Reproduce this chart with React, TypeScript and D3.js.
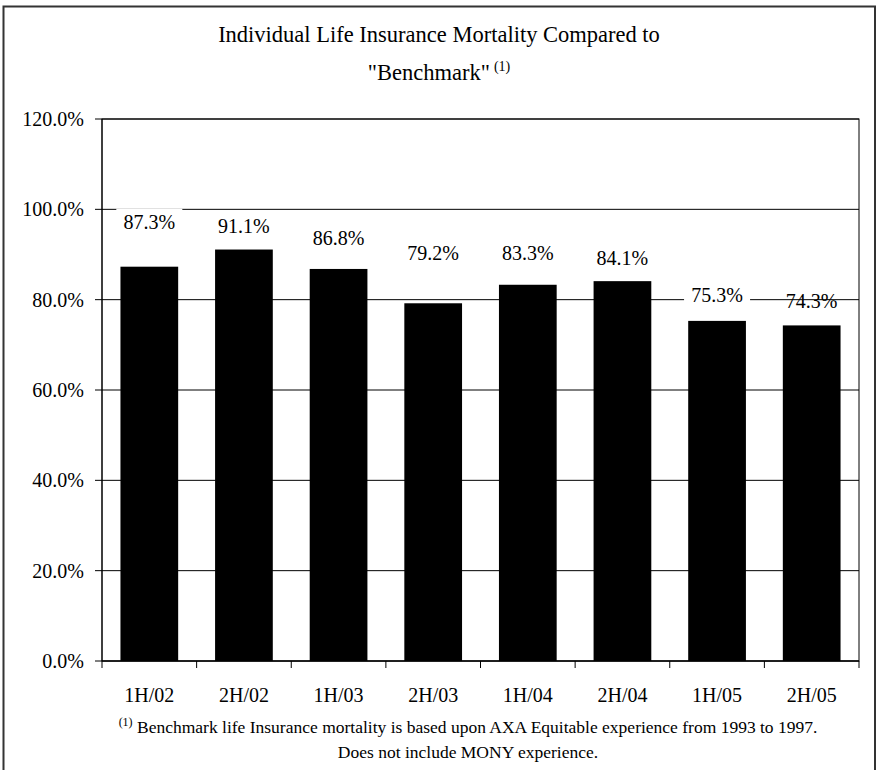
import React from "react";
import * as d3 from "d3";

const categories = ["1H/02", "2H/02", "1H/03", "2H/03", "1H/04", "2H/04", "1H/05", "2H/05"];
const values = [87.3, 91.1, 86.8, 79.2, 83.3, 84.1, 75.3, 74.3];
const yTicks = [0, 20, 40, 60, 80, 100, 120];
// layout tweaks for the hand-placed data labels (pixels above bar top)
const labelLift = [45, 24, 31, 50, 32, 23, 26, 24];
const labelBoxed = [true, true, true, true, true, true, true, false];

const W = 877;
const H = 770;
const FONT = "Liberation Serif, Times New Roman, serif";

export default function App() {
  const left = 102;
  const right = 859;
  const top = 119;
  const bottom = 661;

  const x = d3.scaleBand<string>().domain(categories).range([left, right]).padding(0);
  const y = d3.scaleLinear().domain([0, 120]).range([bottom, top]);
  const barW = x.bandwidth() * 0.61;
  const fmt = (v: number) => v.toFixed(1) + "%";

  return (
    <svg
      width={W}
      height={H}
      style={{ position: "absolute", left: 0, top: 0, display: "block", background: "#fff", fontFamily: FONT }}
    >
      <rect x={0} y={0} width={W} height={H} fill="#fff" />
      {/* outer frame */}
      <rect x={3.5} y={6.5} width={871.5} height={800} fill="none" stroke="#333" strokeWidth={2} />

      {/* title */}
      <text x={439} y={42} textAnchor="middle" fontSize={22.5} fill="#000">
        Individual Life Insurance Mortality Compared to
      </text>
      <text x={439} y={80} textAnchor="middle" fontSize={22.5} fill="#000">
        "Benchmark"
        <tspan fontSize={14} dy={-9} dx={4}>(1)</tspan>
      </text>

      {/* gridlines */}
      {yTicks.map((t) => (
        <line key={"g" + t} x1={left} x2={right} y1={y(t)} y2={y(t)} stroke="#000" strokeWidth={1} />
      ))}

      {/* plot border */}
      <rect x={left} y={top} width={right - left} height={bottom - top} fill="none" stroke="#000" strokeWidth={1} />

      {/* bars */}
      {values.map((v, i) => {
        const cx = (x(categories[i]) as number) + x.bandwidth() / 2;
        return (
          <rect key={"b" + i} x={cx - barW / 2} y={y(v)} width={barW} height={bottom - y(v)} fill="#000" />
        );
      })}

      {/* value labels */}
      {values.map((v, i) => {
        const cx = (x(categories[i]) as number) + x.bandwidth() / 2;
        const cy = y(v) - labelLift[i];
        return (
          <g key={"l" + i}>
            {labelBoxed[i] && <rect x={cx - 33} y={cy - 13} width={66} height={26} fill="#fff" />}
            <text x={cx} y={cy} dy="0.35em" textAnchor="middle" fontSize={20} fill="#000">
              {fmt(v)}
            </text>
          </g>
        );
      })}

      {/* y axis */}
      <line x1={left} x2={left} y1={top} y2={bottom} stroke="#000" />
      {yTicks.map((t) => (
        <g key={"yt" + t}>
          <line x1={left - 7} x2={left} y1={y(t)} y2={y(t)} stroke="#000" />
          <text x={84} y={y(t)} dy="0.35em" textAnchor="end" fontSize={20} fill="#000">
            {t.toFixed(1) + "%"}
          </text>
        </g>
      ))}

      {/* x axis */}
      <line x1={left} x2={right} y1={bottom} y2={bottom} stroke="#000" />
      {categories.map((c, i) => (
        <line key={"xt" + i} x1={x(c) as number} x2={x(c) as number} y1={bottom} y2={bottom + 7} stroke="#000" />
      ))}
      <line x1={right} x2={right} y1={bottom} y2={bottom + 7} stroke="#000" />
      {categories.map((c) => (
        <text key={"xl" + c} x={(x(c) as number) + x.bandwidth() / 2} y={702} textAnchor="middle" fontSize={20} fill="#000">
          {c}
        </text>
      ))}

      {/* footnote */}
      <text x={468} y={733} textAnchor="middle" fontSize={17.5} fill="#000">
        <tspan fontSize={12} dy={-7}>(1)</tspan>
        <tspan dy={7}> Benchmark life Insurance mortality is based upon AXA Equitable experience from 1993 to 1997.</tspan>
      </text>
      <text x={468} y={758} textAnchor="middle" fontSize={17.5} fill="#000">
        Does not include MONY experience.
      </text>
    </svg>
  );
}
